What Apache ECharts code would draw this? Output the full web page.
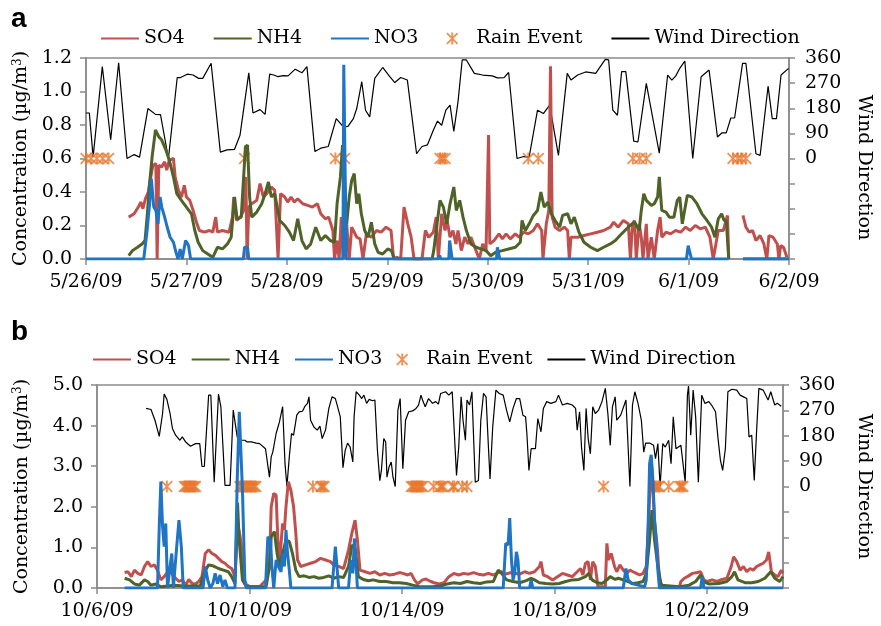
<!DOCTYPE html>
<html>
<head>
<meta charset="utf-8">
<title>SO4 NH4 NO3</title>
<script src="https://cdn.jsdelivr.net/npm/echarts@6/dist/echarts.min.js"></script>
<style>
  html, body { margin: 0; padding: 0; background: #fff; }
  #chart { width: 881px; height: 626px; }
</style>
</head>
<body>
<div id="chart"></div>
<script>
// x in hours from the first date of each panel
var dateLabelsA = ['5/26/09', '5/27/09', '5/28/09', '5/29/09', '5/30/09', '5/31/09', '6/1/09', '6/2/09'];
var dateLabelsB = ['10/6/09', '10/10/09', '10/14/09', '10/18/09', '10/22/09'];
var seriesNames = ['SO4', 'NH4', 'NO3', 'Rain Event', 'Wind Direction'];

// ---- panel a ----
var so4A = [[10.2,0.25],[11.5,0.27],[12.5,0.31],[13.1,0.34],[13.6,0.30],[14.2,0.36],[14.9,0.40],[15.4,0.48],[16.0,0.56],[16.7,0.57],[17.0,0],[17.4,0.56],[18.1,0.55],[18.8,0.58],[19.3,0.53],[19.9,0.59],[20.9,0.60],[21.3,0.49],[22.1,0.41],[22.8,0.37],[23.5,0.44],[24.0,0.37],[24.8,0.35],[25.6,0.29],[26.4,0.22],[27.1,0.17],[28.3,0.16],[29.5,0.17],[30.3,0.16],[31.0,0.25],[31.4,0.16],[32.6,0.17],[34.2,0.16],[35.0,0.25],[35.3,0.37],[36.0,0.23],[36.9,0.25],[37.7,0.29],[38.2,0.49],[38.5,0],[38.9,0.31],[39.6,0.33],[40.8,0.35],[41.6,0.45],[42.4,0.37],[43.2,0.39],[44.3,0.43],[45.1,0.41],[45.9,0],[46.5,0.39],[47.5,0.37],[48.2,0.34],[49.0,0.37],[49.8,0.34],[50.6,0.36],[51.8,0.33],[53.0,0.32],[54.1,0.31],[55.3,0.33],[56.1,0.27],[57.2,0.24],[58.0,0.25],[59.0,0.17],[59.4,0],[60.0,0.11],[60.5,0],[61.0,0.25],[61.5,0],[62.3,0.21],[62.9,0],[63.5,0.19],[64.7,0.13],[65.5,0.12],[66.2,0],[67.0,0.15],[68.2,0.13],[69.4,0.17],[70.5,0.16],[71.7,0.19],[72.9,0.17],[73.5,0],[74.3,0.01],[75.2,0],[76.0,0.31],[76.9,0.21],[77.7,0.13],[78.4,0],[80.3,0],[81.1,0.17],[81.9,0.13],[83.0,0.16],[83.7,0.25],[84.2,0],[85.0,0.27],[85.8,0.17],[86.3,0.23],[87.0,0.13],[87.7,0.17],[88.4,0.09],[88.9,0.17],[89.7,0.05],[90.5,0.13],[91.3,0.09],[92.0,0.13],[93.2,0.05],[94.0,0],[94.8,0.09],[95.6,0.05],[96.2,0.74],[96.5,0.09],[97.5,0.11],[98.7,0.15],[99.5,0.12],[100.4,0.15],[101.4,0.12],[102.6,0.15],[103.5,0.13],[104.6,0.16],[105.7,0.15],[106.9,0.17],[107.9,0.21],[108.9,0.17],[109.2,0],[110.0,0.21],[110.6,0.29],[111.0,1.15],[111.4,0.25],[112.1,0.19],[113.2,0.17],[114.3,0.19],[115.1,0.17],[115.5,0],[115.9,0.13],[117.5,0.13],[119.0,0.14],[120.6,0.15],[122.2,0.16],[123.7,0.17],[125.3,0.19],[126.1,0.22],[127.2,0.19],[128.4,0.23],[129.6,0.21],[130.1,0],[130.6,0.21],[131.1,0.23],[131.5,0],[132.2,0.21],[132.7,0.13],[133.1,0],[133.9,0.21],[134.3,0],[135.1,0.13],[135.8,0],[136.6,0.17],[137.2,0.25],[137.6,0.13],[138.6,0.16],[139.7,0.15],[140.9,0.17],[142.1,0.16],[143.3,0.19],[144.4,0.17],[145.6,0.20],[146.8,0.18],[148.0,0.19],[149.1,0.13],[149.9,0],[151.1,0.17],[152.3,0.17],[153.3,0.26],[153.6,0],[155.0,null],[157.0,0.26],[157.7,0.19],[158.5,0.16],[159.3,0.17],[160.1,0.11],[161.1,0.14],[162.0,0.09],[162.7,0],[163.2,0.14],[164.2,0.13],[165.2,0.09],[165.6,0],[166.0,0.08],[166.7,0.07],[167.5,0.01]];
var nh4A = [[10.2,0.02],[11.1,0.05],[12.3,0.07],[13.4,0.09],[14.1,0.11],[14.6,0.25],[15.2,0.45],[15.8,0.61],[16.6,0.77],[17.4,0.73],[18.1,0.71],[19.1,0.65],[19.9,0.59],[20.9,0.49],[21.7,0.39],[22.8,0.35],[24.0,0.31],[25.2,0.27],[26.0,0.17],[26.8,0.10],[27.9,0.05],[29.1,0.03],[30.3,0.01],[31.4,0.07],[32.6,0.06],[33.8,0.09],[34.7,0.13],[35.5,0.37],[36.1,0.24],[37.1,0.25],[38.1,0.67],[38.6,0.68],[39.1,0.37],[39.6,0.25],[40.8,0.28],[42.0,0.33],[42.8,0.39],[43.6,0.46],[44.3,0.37],[45.1,0.39],[46.3,0.23],[47.5,0.20],[48.6,0.16],[49.6,0.11],[50.6,0.24],[51.6,0.11],[52.6,0.06],[53.7,0.09],[54.9,0.19],[56.1,0.11],[57.2,0.14],[58.4,0.11],[59.4,0.10],[60.0,0.33],[60.8,0.49],[61.3,0.68],[61.8,0.45],[62.3,0.21],[62.9,0.37],[63.5,0.47],[64.1,0.51],[64.7,0.33],[65.2,0.39],[65.8,0.27],[66.6,0.17],[67.4,0.13],[68.2,0.22],[69.0,0.09],[69.8,0.04],[70.9,0.03],[72.1,0.06],[73.0,0.05],[73.7,0],[82.7,0],[83.1,0.05],[83.8,0.19],[84.6,0.35],[85.4,0.31],[86.2,0.21],[87.0,0.33],[87.9,0.43],[88.5,0.29],[89.3,0.35],[90.1,0.25],[90.9,0.17],[92.0,0.09],[93.2,0.07],[94.4,0.06],[95.6,0.05],[96.7,0.02],[97.9,0.04],[99.5,0.05],[101.0,0.06],[102.6,0.07],[103.8,0.10],[104.2,0.23],[105.0,0.17],[105.9,0.21],[106.9,0.26],[107.9,0.29],[108.7,0.40],[109.5,0.31],[110.4,0.34],[111.2,0.27],[112.1,0.23],[113.2,0.19],[113.9,0.26],[115.1,0.27],[115.9,0.21],[116.7,0.25],[117.8,0.16],[119.0,0.10],[120.6,0.07],[122.2,0.05],[123.7,0.07],[125.3,0.09],[126.5,0.11],[127.6,0.14],[128.8,0.17],[130.0,0.20],[131.1,0.22],[132.2,0.17],[132.7,0.29],[133.3,0.39],[133.9,0.35],[135.1,0.32],[135.8,0.33],[136.6,0.37],[137.0,0.49],[137.6,0.29],[138.6,0.28],[139.4,0.25],[140.5,0.25],[141.3,0.35],[141.9,0.37],[142.5,0.21],[143.7,0.38],[144.8,0.37],[146.0,0.33],[147.2,0.27],[148.4,0.23],[149.5,0.19],[150.3,0.13],[151.1,0.24],[151.9,0.27],[152.5,0.23],[153.0,0.23],[153.6,0],[155.0,null],[157.0,0],[167.9,0]];
var no3A = [[0,0],[13.8,0],[14.6,0.17],[15.2,0.33],[15.6,0.48],[16.2,0.31],[16.7,0.29],[17.2,0.21],[17.7,0.37],[18.1,0.31],[18.8,0.25],[19.3,0.20],[20.1,0.13],[20.9,0.10],[21.5,0.04],[22.0,0],[22.5,0.06],[23.0,0],[23.8,0.11],[24.5,0.08],[25.0,0],[37.6,0],[37.9,0.07],[38.6,0.07],[38.9,0],[61.4,0],[61.6,1.16],[62.0,1.16],[62.2,0],[84.2,0],[84.5,0.02],[84.8,0],[86.7,0],[86.9,0.11],[87.3,0.11],[87.5,0],[98.1,0],[98.3,0.07],[98.7,0.07],[98.9,0],[143.5,0],[143.9,0.08],[144.3,0.08],[144.7,0],[153.6,0],[155.0,null],[157.0,0],[168,0]];
var windA = [[0,163],[0.8,163],[1.7,5],[3.9,329],[5.9,67],[7.8,343],[9.8,0],[11.5,14],[12.8,5],[14.8,179],[16.6,158],[17.8,157],[19.7,0],[21.8,290],[22.6,290],[24.2,302],[25.6,299],[26.9,287],[27.9,287],[29.9,341],[32.1,23],[33.7,31],[35.5,33],[36.8,83],[38.9,307],[39.9,163],[41.6,175],[42.8,158],[43.9,302],[44.9,299],[45.9,293],[47.1,297],[48.3,296],[50.0,320],[51.6,307],[52.8,329],[54.7,25],[56.1,37],[57.9,43],[59.8,143],[61.5,113],[62.6,115],[63.9,143],[64.7,179],[65.9,275],[66.8,173],[67.8,149],[69.0,287],[70.9,326],[72.5,295],[73.8,272],[75.2,290],[76.8,281],[79.0,17],[80.3,43],[81.6,49],[83.0,101],[84.0,134],[85.0,119],[86.0,173],[87.0,191],[87.9,97],[88.9,203],[89.9,353],[90.9,353],[92.8,305],[94.8,299],[97.1,296],[98.3,289],[99.9,290],[101.0,308],[103.0,0],[104.6,7],[105.9,5],[107.9,173],[109.3,161],[110.8,191],[112.9,11],[115.0,305],[115.9,281],[117.5,299],[119.4,310],[121.8,305],[124.1,355],[124.9,353],[125.9,173],[127.0,155],[128.0,311],[129.0,311],[130.9,62],[131.9,59],[133.9,269],[137.0,19],[139.0,299],[140.0,281],[140.9,295],[141.9,323],[143.1,349],[145.0,0],[147.0,293],[148.9,317],[150.9,77],[152.0,92],[153.0,92],[154.1,145],[155.0,145],[156.9,341],[157.7,341],[160.1,17],[161.1,11],[163.0,259],[164.0,143],[165.0,143],[166.1,299],[167.9,323]];
var rainA = [0, 1.2, 2.6, 4.0, 5.4, 37.9, 59.6, 61.8, 84.6, 85.2, 85.8, 105.7, 108.1, 130.7, 132.3, 133.9, 154.6, 155.8, 156.6, 157.7];

// ---- panel b ----
var so4B = [[17.4,0.38],[19.5,0.40],[21.6,0.28],[23.6,0.44],[25.7,0.36],[27.8,0.32],[29.9,0.53],[31.9,0.65],[34.0,0.53],[36.1,0.57],[38.1,0.44],[40.2,0.20],[42.3,0.28],[45.4,0.44],[48.5,0.28],[51.6,0.16],[53.7,0.20],[55.8,0.07],[57.8,0.21],[59.9,0.11],[62.0,0.10],[64.1,0.16],[66.1,0.28],[68.2,0.85],[70.3,0.94],[72.4,0.85],[74.4,0.81],[76.5,0.73],[78.6,0.65],[80.6,0.61],[82.7,0.53],[84.8,0.48],[86.9,0.28],[87.9,1.02],[89.0,1.5],[90.0,1.3],[91.6,0.85],[93.1,0.11],[96.2,0.03],[102.4,0.03],[106.6,0.20],[108.6,0.53],[109.7,2.0],[111.3,2.33],[112.8,2.29],[113.8,1.26],[114.9,0.53],[115.9,1.10],[116.9,1.59],[118.0,1.43],[119.0,2.0],[120.5,2.62],[122.1,2.41],[123.8,2.0],[125.2,1.35],[126.3,0.69],[128.3,0.53],[131.4,0.57],[134.5,0.61],[137.7,0.65],[140.8,0.73],[143.9,0.69],[147.0,0.65],[149.1,0.57],[152.2,0.53],[155.3,0.48],[158.4,0.94],[160.5,1.35],[162.5,1.67],[164.0,1.18],[165.6,0.44],[168.8,0.40],[171.9,0.36],[175.0,0.40],[178.1,0.32],[181.2,0.36],[184.3,0.32],[187.4,0.34],[190.5,0.38],[192.6,0.36],[195.7,0.32],[197.8,0.36],[199.9,0.20],[201.9,0.10],[205.0,0.20],[207.1,0.22],[210.2,0.16],[212.3,0.13],[215.4,0.10],[218.5,0.13],[219.5,0.10],[221.6,0.28],[224.7,0.36],[227.8,0.32],[230.9,0.36],[234.0,0.34],[237.1,0.38],[240.2,0.34],[243.3,0.32],[246.5,0.36],[249.6,0.32],[252.7,0.38],[254.8,0.40],[256.8,0.34],[261.0,0.38],[266.2,0.34],[269.3,0.40],[272.4,0.36],[275.5,0.40],[278.6,0.53],[279.6,0.65],[281.1,0.32],[283.8,0.28],[286.9,0.20],[290.0,0.28],[293.1,0.36],[296.2,0.32],[299.3,0.28],[302.4,0.40],[304.5,0.48],[306.0,0.32],[307.6,0.61],[309.3,0.65],[310.7,0.20],[312.2,0.65],[313.8,0.53],[315.5,0.03],[320.1,0.03],[321.1,1.10],[322.1,0.69],[323.8,0.85],[325.9,0.53],[327.3,0.40],[329.3,0.57],[331.4,0.44],[333.5,0.36],[335.6,0.44],[337.6,0.40],[339.7,0.36],[341.8,0.32],[343.9,0.36],[345.9,0.53],[347.6,1.84],[349.0,3.23],[351.1,1.67],[352.8,1.02],[354.2,0.20],[356.3,0.02],[366.7,0.02],[367.7,0.16],[369.8,0.24],[371.8,0.28],[375.0,0.36],[378.1,0.38],[380.1,0.40],[382.2,0.20],[384.3,0.16],[387.4,0.20],[390.5,0.16],[393.6,0.21],[396.7,0.24],[399.4,0.53],[400.9,0.77],[402.9,0.65],[405.0,0.44],[407.1,0.53],[409.2,0.40],[411.2,0.48],[413.3,0.44],[415.4,0.53],[417.4,0.57],[419.5,0.61],[421.6,0.69],[423.0,0.89],[424.7,0.40],[426.8,0.32],[428.9,0.28],[430.9,0.44],[432,0.36]];
var nh4B = [[17.4,0.24],[20.5,0.20],[23.6,0.10],[26.7,0.07],[29.9,0.20],[31.9,0.16],[34.0,0.07],[37.1,0.10],[40.2,0.03],[48.5,0.07],[54.7,0.05],[65.1,0.05],[67.2,0.36],[70.3,0.57],[73.4,0.54],[76.5,0.48],[79.6,0.44],[82.7,0.40],[84.8,0.28],[86.9,0.11],[88.5,2.1],[89.5,1.2],[91.6,0.20],[94.1,0.03],[106.5,0.03],[108.6,0.53],[109.7,1.26],[111.7,1.39],[113.4,0.85],[114.9,0.53],[116.9,0.85],[119.0,1.18],[121.1,1.14],[123.1,0.85],[125.2,0.44],[127.3,0.28],[130.4,0.30],[133.5,0.26],[136.6,0.28],[139.7,0.24],[142.8,0.26],[146.0,0.30],[149.1,0.24],[152.2,0.28],[155.3,0.26],[158.4,0.53],[160.5,1.06],[162.5,0.98],[164.6,0.28],[167.7,0.21],[170.8,0.18],[173.9,0.20],[178.1,0.16],[182.2,0.16],[186.4,0.13],[190.5,0.13],[194.7,0.11],[198.8,0.07],[203.0,0.03],[211.3,0.03],[216.4,0.05],[220.5,0.10],[224.7,0.13],[228.8,0.11],[233.0,0.16],[237.1,0.13],[241.3,0.11],[245.4,0.15],[249.6,0.16],[252.7,0.44],[254.8,0.36],[257.9,0.20],[262.0,0.16],[266.2,0.13],[270.3,0.18],[273.4,0.24],[275.5,0.20],[278.6,0.13],[282.7,0.11],[286.9,0.10],[291.0,0.11],[295.2,0.16],[299.3,0.20],[303.5,0.21],[307.6,0.28],[309.7,0.36],[311.8,0.20],[314.9,0.13],[318.0,0.11],[321.1,0.20],[323.2,0.28],[326.3,0.21],[328.3,0.24],[331.4,0.20],[334.5,0.16],[337.6,0.11],[340.7,0.13],[343.9,0.16],[345.9,0.36],[348.0,1.18],[349.5,1.92],[351.1,1.18],[353.2,0.53],[355.3,0.07],[366.7,0.03],[372.9,0.07],[377.0,0.16],[380.1,0.32],[381.6,0.16],[385.3,0.10],[391.5,0.11],[396.7,0.16],[399.8,0.28],[401.5,0.40],[403.6,0.20],[408.1,0.13],[412.3,0.13],[416.4,0.16],[420.6,0.24],[424.3,0.40],[426.8,0.24],[429.9,0.16],[432,0.28]];
var no3B = [[17.4,0],[38.1,0],[39.2,1.51],[40.2,2.62],[41.3,1.51],[42.3,1.02],[43.3,1.59],[44.4,0],[46.0,0.53],[47.1,0.85],[48.1,0],[50.2,1.02],[51.6,1.67],[53.1,1.02],[54.3,0],[66.8,0],[68.2,0.53],[69.7,0.20],[71.3,0],[73.0,0.11],[74.4,0.36],[75.9,0.11],[77.5,0.32],[79.2,0.03],[80.6,0.20],[82.1,0],[86.9,0],[88.3,2.66],[89.6,4.34],[90.4,4.30],[91.6,2.41],[93.1,0.20],[94.1,0],[106.1,0],[107.6,1.26],[109.3,1.18],[110.1,0.53],[111.3,0],[112.8,0.69],[114.2,0.53],[115.9,0.40],[116.9,0.85],[118.0,0.53],[119.0,1.43],[120.0,0.85],[121.1,0.44],[122.1,0],[148.0,0],[149.1,0.53],[150.1,1.02],[151.1,0.53],[152.2,0],[158.4,0],[159.8,0.69],[161.1,0.36],[162.1,1.22],[163.2,0.53],[164.0,0],[255.8,0],[257.4,1.10],[258.9,1.06],[259.9,1.72],[261.0,0.69],[262.0,0.20],[263.0,0.36],[264.1,0.89],[265.1,0.69],[266.2,0],[272.4,0],[273.4,0.20],[274.4,0],[331.4,0],[333.1,0.48],[334.5,0.20],[336.6,0.11],[340.7,0.07],[344.9,0.03],[345.9,0.20],[347.0,1.43],[348.0,3.07],[349.0,3.28],[350.1,2.66],[351.1,1.67],[352.1,1.18],[353.2,0.44],[354.2,0],[380.1,0],[381.2,0.28],[382.2,0],[432,0]];
var windB = [[30.9,277],[34.0,273],[36.5,235],[39.2,178],[41.3,259],[42.3,328],[44.0,309],[46.0,259],[47.5,206],[49.5,182],[52.2,164],[53.7,176],[55.8,158],[58.9,143],[62.0,152],[64.7,152],[66.1,71],[67.6,71],[70.3,324],[71.7,324],[73.8,15],[76.5,328],[78.0,283],[80.6,4],[83.8,4],[85.8,271],[86.9,277],[88.3,176],[90.0,164],[93.1,164],[94.5,158],[97.2,158],[100.3,154],[102.4,152],[106.1,134],[108.6,33],[109.7,105],[110.7,122],[112.8,188],[114.9,229],[115.9,223],[116.9,283],[118.4,81],[119.6,0],[121.1,105],[122.5,188],[123.8,182],[125.8,253],[127.3,265],[129.4,267],[130.8,283],[132.5,295],[133.5,318],[134.5,235],[136.6,211],[138.7,200],[140.4,214],[141.8,170],[143.9,200],[146.0,277],[148.0,318],[150.1,312],[151.5,283],[153.2,247],[154.9,67],[156.3,128],[157.8,154],[159.4,140],[161.1,87],[161.9,247],[163.2,336],[165.2,324],[166.7,312],[168.1,324],[169.8,295],[171.4,309],[173.5,304],[175.0,307],[176.6,128],[178.1,21],[179.1,57],[180.6,170],[181.8,158],[182.6,33],[183.9,69],[185.3,87],[186.4,33],[187.8,0],[189.5,271],[190.9,312],[192.6,63],[194.3,235],[196.3,265],[198.8,268],[200.9,277],[202.5,289],[204.0,324],[205.0,307],[206.7,283],[208.8,312],[211.3,295],[213.3,301],[215.0,292],[216.4,330],[219.5,336],[221.6,324],[223.7,336],[226.4,39],[227.8,140],[229.3,318],[230.5,235],[232.0,164],[233.0,307],[234.6,289],[236.1,336],[238.2,15],[240.2,21],[241.7,235],[243.4,330],[245.0,318],[246.5,140],[247.5,27],[249.2,211],[251.2,342],[253.3,330],[255.8,324],[257.9,271],[259.9,229],[262.0,277],[264.1,312],[266.2,312],[268.2,253],[269.9,247],[270.7,188],[272.0,57],[273.4,134],[276.1,134],[277.6,241],[279.6,194],[281.1,277],[283.2,301],[285.8,295],[289.0,301],[290.6,324],[293.1,289],[296.2,295],[299.3,289],[301.4,277],[302.4,200],[303.9,265],[305.1,140],[306.6,57],[308.0,277],[309.3,170],[310.7,116],[312.2,283],[313.8,259],[315.9,271],[318.0,301],[320.1,348],[321.7,259],[323.2,146],[324.6,283],[326.3,318],[327.3,235],[329.8,253],[333.1,307],[335.6,0],[337.2,289],[338.7,336],[340.7,295],[342.8,235],[344.3,122],[345.5,154],[348.0,154],[350.5,146],[351.7,99],[353.2,152],[354.6,0],[356.3,152],[357.9,140],[360.0,164],[361.5,81],[362.9,247],[364.6,134],[367.7,146],[370.4,15],[371.8,324],[372.5,356],[373.9,182],[375.4,342],[377.0,247],[378.7,15],[380.8,324],[382.8,295],[385.3,301],[387.0,289],[389.5,265],[391.1,170],[392.6,93],[394.0,57],[395.7,134],[397.3,336],[399.8,345],[402.9,342],[405.0,324],[407.1,318],[409.2,312],[410.6,176],[412.3,182],[413.9,21],[415.4,200],[416.8,348],[419.5,342],[422.6,307],[424.3,336],[426.8,289],[428.4,295],[430.9,285]];
var rainB = [44, 55, 56, 57, 58, 59, 60, 61, 62, 90, 91, 92, 93, 94, 95, 96, 97, 98, 99, 100, 136, 141, 142, 143, 198, 199, 200, 201, 202, 203, 204, 205, 212, 216, 217, 218, 224, 225, 230, 233, 319, 351, 352, 353, 354, 360, 367, 368, 369];

var FONT = 'DejaVu Serif';
var GRAY = '#8a8a8a';
var RED = '#C0504D', GREEN = '#4F6228', BLUE = '#1F74C4', ORANGE = '#E8782E';
// Excel style star marker: x plus vertical bar
var STAR = 'path://M4.2,0L5.8,0L5.8,10L4.2,10Z M0,1.1L1.1,0L10,8.9L8.9,10Z M8.9,0L10,1.1L1.1,10L0,8.9Z';

function lineSeries(name, data, color, gridIdx, yIdx, width, z) {
    return {
        name: name, type: 'line', xAxisIndex: gridIdx, yAxisIndex: yIdx, data: data,
        showSymbol: false, symbol: 'none', connectNulls: false, z: z,
        lineStyle: { color: color, width: width }, itemStyle: { color: color }
    };
}
function rainSeries(hours, gridIdx, yIdx) {
    return {
        name: 'Rain Event', type: 'scatter', xAxisIndex: gridIdx, yAxisIndex: yIdx,
        data: hours.map(function (h) { return [h, 0]; }),   // rain marks sit on 0 deg of the wind axis
        symbol: STAR, symbolSize: 12, z: 2, itemStyle: { color: ORANGE }
    };
}
function xAxisFor(gridIdx, max, step, labels) {
    var vals = [];
    for (var i = 0; i < labels.length; i++) vals.push(i * step);
    return {
        type: 'value', gridIndex: gridIdx, min: 0, max: max, interval: step,
        axisLine: { lineStyle: { color: GRAY, width: 1.5 } },
        axisTick: { length: 6, lineStyle: { color: GRAY, width: 1.5 }, customValues: vals },
        axisLabel: {
            customValues: vals, margin: 14, color: '#000', fontFamily: FONT, fontSize: 19,
            formatter: function (v) { return v % step === 0 ? (labels[v / step] || '') : ''; }
        },
        splitLine: { show: false }
    };
}
function concAxis(gridIdx, max, step, gap) {
    return {
        type: 'value', gridIndex: gridIdx, min: 0, max: max, interval: step, position: 'left',
        name: 'Concentration (µg/m{s|3})', nameLocation: 'middle', nameGap: gap,
        nameTextStyle: { color: '#000', fontFamily: FONT, fontSize: 19,
            rich: { s: { fontFamily: FONT, fontSize: 12, verticalAlign: 'top', padding: [0, 0, 8, 0] } } },
        axisLine: { show: true, lineStyle: { color: GRAY, width: 1.5 } },
        axisTick: { show: true, length: 6, lineStyle: { color: GRAY, width: 1.5 } },
        axisLabel: { margin: 14, color: '#000', fontFamily: FONT, fontSize: 19,
            formatter: function (v) { return v.toFixed(1); } },
        splitLine: { show: false }
    };
}
function windAxis(gridIdx, gap, pad) {
    return {
        type: 'value', gridIndex: gridIdx, min: -360, max: 360, interval: 90, position: 'right',
        name: 'Wind Direction', nameLocation: 'middle', nameGap: gap, nameRotate: -90,
        nameTextStyle: { color: '#000', fontFamily: FONT, fontSize: 19, padding: pad },
        axisLine: { show: true, lineStyle: { color: GRAY, width: 1.5 } },
        axisTick: { show: true, length: 6, lineStyle: { color: GRAY, width: 1.5 } },
        axisLabel: { margin: 16, color: '#000', fontFamily: FONT, fontSize: 19,
            formatter: function (v) { return v < 0 ? '' : String(v); } },
        splitLine: { show: false }
    };
}
function legendFor(top, left, gap) {
    // line items: hide the dot ECharts puts on a line legend icon
    var items = seriesNames.map(function (n) {
        return n === 'Rain Event' ? { name: n } : { name: n, itemStyle: { color: 'rgba(0,0,0,0)', borderWidth: 0, opacity: 0 } };
    });
    return {
        data: items, top: top, left: left, padding: 0, itemGap: gap,
        itemWidth: 38, itemHeight: 12, selectedMode: false,
        textStyle: { color: '#000', fontFamily: FONT, fontSize: 19 }
    };
}

var chart = echarts.init(document.getElementById('chart'));
chart.setOption({
    animation: false,
    backgroundColor: '#fff',
    graphic: [
        { type: 'text', left: 11, top: 5, style: { text: 'a', font: 'bold 28px "Liberation Sans"', fill: '#000' } },
        { type: 'text', left: 11, top: 318, style: { text: 'b', font: 'bold 28px "Liberation Sans"', fill: '#000' } }
    ],
    legend: [legendFor(29, 100, 28), legendFor(350, 92, 14)],
    grid: [
        { left: 86, top: 58, width: 716, height: 201, show: true, borderColor: GRAY, borderWidth: 1.5 },
        { left: 97, top: 385, width: 695, height: 203, show: true, borderColor: GRAY, borderWidth: 1.5 }
    ],
    xAxis: [xAxisFor(0, 168, 24, dateLabelsA), xAxisFor(1, 432, 96, dateLabelsB)],
    yAxis: [concAxis(0, 1.2, 0.2, 54), windAxis(0, 65, [0, 0, 0, 18]), concAxis(1, 5, 1, 65), windAxis(1, 71, 0)],
    series: [
        lineSeries('Wind Direction', windA, '#000', 0, 1, 1.2, 1),
        rainSeries(rainA, 0, 1),
        lineSeries('SO4', so4A, RED, 0, 0, 3, 3),
        lineSeries('NH4', nh4A, GREEN, 0, 0, 3, 4),
        lineSeries('NO3', no3A, BLUE, 0, 0, 3, 5),
        lineSeries('Wind Direction', windB, '#000', 1, 3, 1.2, 1),
        rainSeries(rainB, 1, 3),
        lineSeries('SO4', so4B, RED, 1, 2, 3, 3),
        lineSeries('NH4', nh4B, GREEN, 1, 2, 3, 4),
        lineSeries('NO3', no3B, BLUE, 1, 2, 3, 5)
    ]
});
</script>
</body>
</html>
